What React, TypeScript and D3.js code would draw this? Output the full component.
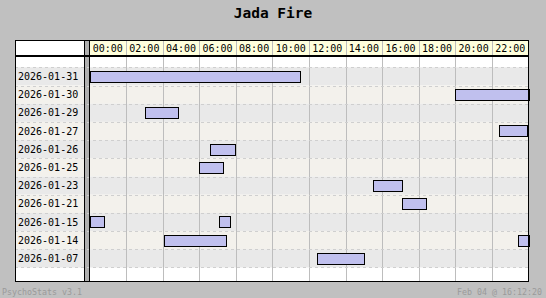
import React from 'react';
import * as d3 from 'd3';

const title = 'Jada Fire';
const days = ['2026-01-31', '2026-01-30', '2026-01-29', '2026-01-27', '2026-01-26', '2026-01-25', '2026-01-23', '2026-01-21', '2026-01-15', '2026-01-14', '2026-01-07'];
const hourTicks = [0, 2, 4, 6, 8, 10, 12, 14, 16, 18, 20, 22];
const tickLabels = ['00:00', '02:00', '04:00', '06:00', '08:00', '10:00', '12:00', '14:00', '16:00', '18:00', '20:00', '22:00'];
const sessionDay = ['2026-01-31', '2026-01-30', '2026-01-29', '2026-01-27', '2026-01-26', '2026-01-25', '2026-01-23', '2026-01-21', '2026-01-15', '2026-01-15', '2026-01-14', '2026-01-14', '2026-01-07'];
const sessionStart = [0, 20.0, 3.05, 22.4, 6.6, 6.0, 15.52, 17.1, 0, 7.1, 4.09, 23.45, 12.46];
const sessionEnd = [11.49, 24, 4.82, 23.9, 7.97, 7.32, 17.1, 18.41, 0.81, 7.67, 7.45, 24, 15.03];
const footerLeft = 'PsychoStats v3.1';
const footerRight = 'Feb 04 @ 16:12:20';

export default function App() {
  const W = 546, H = 298;
  const frameL = 15, frameT = 40, frameR = 528.5, frameB = 281.5;
  const labelR = 84.5;
  const plotL = 89.5, plotR = 528.5;
  const headerB = 56;
  const x = d3.scaleLinear().domain([0, 24]).range([plotL, plotR]);
  const y = d3.scaleBand<string>().domain(days).range([67.3, 267.5]);
  const rowColors = ['#e9e9e9', '#f3f1ec'];
  const mono = '"DejaVu Sans Mono", "Liberation Mono", monospace';
  const bh = 11;

  return (
    <svg width={W} height={H} style={{ position: 'absolute', left: 0, top: 0 }} fontFamily={mono}>
      <rect x={0} y={0} width={W} height={H} fill="#c0c0c0" />
      <text x={W / 2} y={18} textAnchor="middle" fontSize={14.5} fontWeight="bold" fill="#000">{title}</text>
      {/* frame background */}
      <rect x={frameL} y={frameT} width={frameR - frameL} height={frameB - frameT} fill="#fff" />
      {/* header cream */}
      <rect x={plotL} y={frameT} width={plotR - plotL} height={headerB - frameT} fill="#ffffdc" />
      {/* row backgrounds */}
      {days.map((d, i) => (
        <rect key={d} x={frameL} y={y(d)!} width={frameR - frameL} height={y.bandwidth()} fill={rowColors[i % 2]} />
      ))}
      {/* separator */}
      <rect x={labelR + 0.5} y={frameT} width={4} height={frameB - frameT} fill="#b0b0b0" />
      {/* vertical gridlines */}
      {hourTicks.slice(1).map(h => (
        <line key={h} x1={Math.round(x(h)) + 0.5} x2={Math.round(x(h)) + 0.5} y1={frameT} y2={frameB} stroke="#bdbdbd" strokeWidth={1} />
      ))}
      {/* dashed row lines */}
      {days.map(d => (
        <line key={d} x1={frameL} x2={frameR} y1={Math.round(y(d)!) + 0.5} y2={Math.round(y(d)!) + 0.5} stroke="#cfcfcf" strokeDasharray="3,3" />
      ))}
      <line x1={frameL} x2={frameR} y1={267.5} y2={267.5} stroke="#cfcfcf" strokeDasharray="3,3" />
      {/* tick labels */}
      {hourTicks.map((h, i) => (
        <text key={h} x={(x(h) + x(h + 2)) / 2} y={52} textAnchor="middle" fontSize={10} fill="#000">{tickLabels[i]}</text>
      ))}
      {/* day labels */}
      {days.map(d => (
        <text key={d} x={18} y={y(d)! + y.bandwidth() / 2 + 3.5} fontSize={10} fill="#000">{d}</text>
      ))}
      {/* bars */}
      {sessionDay.map((d, i) => (
        <rect key={i} x={Math.round(x(sessionStart[i])) + 0.5} y={Math.round(y(d)! + 3.5) + 0.5}
          width={Math.round(x(sessionEnd[i])) - Math.round(x(sessionStart[i]))} height={bh}
          fill="#c0c0ee" stroke="#000" strokeWidth={1} />
      ))}
      {/* lines */}
      <line x1={frameL} x2={frameR} y1={headerB} y2={headerB} stroke="#000" strokeWidth={2} />
      <line x1={labelR} x2={labelR} y1={frameT} y2={frameB} stroke="#000" strokeWidth={1} />
      <line x1={plotL} x2={plotL} y1={frameT} y2={frameB} stroke="#000" strokeWidth={1} />
      <rect x={frameL + 0.5} y={frameT + 0.5} width={frameR - frameL - 0.5} height={frameB - frameT - 0.5} fill="none" stroke="#000" strokeWidth={1} />
      {/* footer */}
      <text x={2} y={295} fontSize={8.3} fill="#9a9a9a">{footerLeft}</text>
      <text x={542} y={295} textAnchor="end" fontSize={8.3} fill="#9a9a9a">{footerRight}</text>
    </svg>
  );
}
